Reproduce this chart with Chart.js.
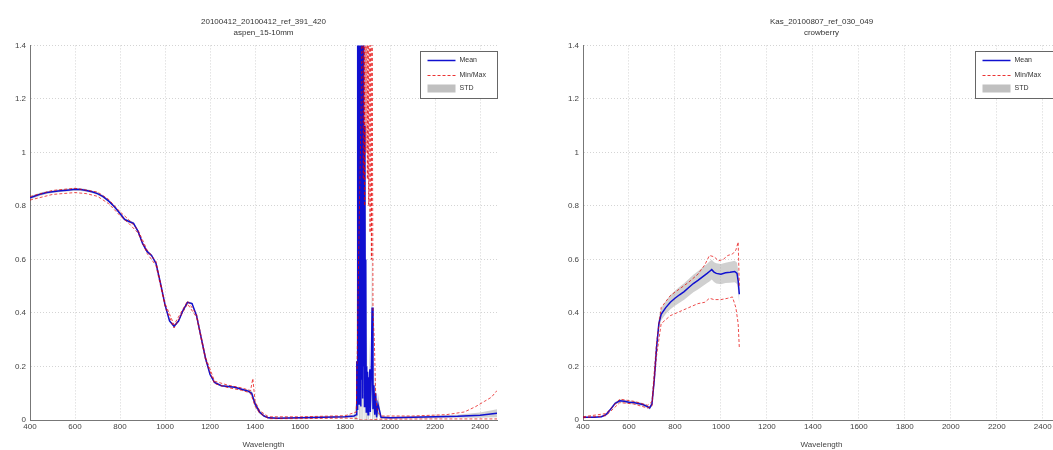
<!DOCTYPE html>
<html>
<head>
<meta charset="utf-8">
<script src="https://cdn.jsdelivr.net/npm/chart.js@4.4.0/dist/chart.umd.min.js"></script>
<style>
html, body { margin: 0; padding: 0; background: #fff; overflow: hidden; width: 1053px; height: 450px; }
#left { position: absolute; left: 0; top: 0; width: 527px; height: 450px; }
#right { position: absolute; left: 527px; top: 0; width: 540px; height: 450px; }
</style>
</head>
<body>
<div id="left"><canvas id="leftChart" width="527" height="450"></canvas></div>
<div id="right"><canvas id="rightChart" width="540" height="450"></canvas></div>
<script>
// tick labels and legend
var xTicks = [400, 600, 800, 1000, 1200, 1400, 1600, 1800, 2000, 2200, 2400];
var yTicks = [0, 0.2, 0.4, 0.6, 0.8, 1, 1.2, 1.4];
var legendLabels = ['Mean', 'Min/Max', 'STD'];

// left panel
var leftTitle = ['20100412_20100412_ref_391_420', 'aspen_15-10mm'];
var leftWl = [400,425,450,475,500,525,550,575,600,625,
    650,675,700,725,750,775,800,820,840,860,
    880,900,920,940,960,980,1000,1020,1040,1060,
    1080,1100,1120,1140,1160,1180,1200,1220,1250,1280,
    1310,1340,1370,1385,1400,1420,1440,1460,1500,1600,
    1700,1800,1840,
    1850,1852,1854,1856,1858,1860,1862,1864,1866,1868,1870,1872,1874,1876,1878,
    1880,1882,1884,1886,1888,1890,1892,1894,1896,1898,1900,1902,1904,1906,
    1910,1912,1916,1920,1924,1928,1932,1936,1940,1946,
    1960,2000,2100,2200,2300,2400,2475];
var leftMean = [0.830,0.838,0.845,0.850,0.853,0.856,0.858,0.860,0.862,0.861,
    0.858,0.853,0.846,0.835,0.818,0.797,0.772,0.750,0.742,0.735,
    0.705,0.660,0.630,0.615,0.585,0.510,0.430,0.370,0.350,0.370,
    0.410,0.440,0.435,0.390,0.310,0.230,0.170,0.140,0.128,0.125,
    0.122,0.115,0.108,0.100,0.060,0.030,0.015,0.008,0.007,0.008,
    0.010,0.012,0.015,
    0.02,0.22,0.04,1.7,0.12,2.2,0.06,1.9,0.18,2.0,0.05,1.6,0.15,1.2,0.08,
    1.5,0.2,0.9,0.05,1.1,0.12,0.6,0.03,0.2,0.06,0.18,0.02,0.16,0.05,
    0.19,0.03,0.15,0.42,0.04,0.13,0.02,0.10,0.01,0.06,
    0.01,0.008,0.01,0.012,0.014,0.018,0.025];
var leftStd = [0.006,0.006,0.006,0.005,0.005,0.005,0.005,0.005,0.005,0.005,
    0.005,0.005,0.005,0.005,0.005,0.005,0.005,0.005,0.005,0.005,
    0.004,0.004,0.004,0.004,0.004,0.004,0.004,0.004,0.004,0.004,
    0.004,0.004,0.004,0.004,0.004,0.004,0.004,0.004,0.004,0.004,
    0.004,0.004,0.005,0.010,0.012,0.008,0.004,0.003,0.003,0.003,
    0.003,0.004,0.006,
    0.05,0.3,0.1,0.9,0.3,1.2,0.4,1.1,0.4,1.2,0.3,1.0,0.4,0.8,0.3,
    1.0,0.4,0.7,0.3,0.8,0.3,0.5,0.1,0.2,0.1,0.15,0.05,0.12,0.05,
    0.12,0.04,0.1,0.3,0.05,0.1,0.03,0.08,0.02,0.04,
    0.006,0.004,0.004,0.005,0.006,0.01,0.015];
var leftMaxWl = [400,500,600,700,750,800,840,880,920,960,1000,1040,1080,1100,1140,1180,1220,1280,1340,1380,1390,1400,1420,1460,1600,1800,
    1850,1855,1860,1866,1872,1878,1881,1884,1887,1890,1893,1896,1899,1902,1905,1908,1911,1914,1917,1920,1924,1930,1936,1945,
    1960,2100,2250,2330,2380,2420,2450,2475];
var leftMax = [0.835,0.858,0.866,0.852,0.824,0.778,0.748,0.710,0.636,0.592,0.436,0.356,0.415,0.445,0.395,0.235,0.145,0.130,0.120,0.110,0.155,0.070,0.035,0.012,0.012,0.016,
    0.03,0.3,0.6,0.9,1.2,2.0,0.9,2.0,0.8,2.0,1.0,2.0,0.9,2.0,0.8,2.0,0.7,2.0,0.6,1.6,0.4,0.3,0.08,0.03,
    0.015,0.015,0.02,0.03,0.05,0.07,0.085,0.11];
var leftMinWl = [400,500,600,650,700,750,800,840,880,920,960,1000,1040,1080,1100,1140,1180,1220,1280,1340,1380,1400,1420,1460,1600,1800,1850,1870,1900,1950,2200,2475];
var leftMin = [0.822,0.843,0.850,0.846,0.836,0.808,0.764,0.734,0.699,0.623,0.577,0.424,0.344,0.404,0.434,0.384,0.224,0.136,0.121,0.111,0.101,0.052,0.026,0.005,0.005,0.007,0.006,0.0,0.0,0.003,0.004,0.004];

// right panel
var rightTitle = ['Kas_20100807_ref_030_049', 'crowberry'];
var rightWl = [400,450,480,500,520,540,560,580,600,620,
    640,660,680,690,700,710,720,730,740,760,
    780,800,820,840,860,880,900,920,940,950,
    960,970,980,1000,1020,1040,1060,1070,1075,1080];
var rightMean = [0.010,0.010,0.012,0.020,0.040,0.062,0.072,0.070,0.066,0.065,
    0.062,0.058,0.050,0.045,0.060,0.150,0.270,0.360,0.395,0.420,
    0.440,0.455,0.468,0.480,0.495,0.510,0.522,0.535,0.548,0.555,
    0.562,0.553,0.548,0.545,0.550,0.552,0.555,0.548,0.520,0.470];
var rightStd = [0.002,0.002,0.002,0.003,0.004,0.005,0.006,0.006,0.006,0.006,
    0.006,0.006,0.006,0.006,0.008,0.015,0.020,0.022,0.022,0.024,
    0.026,0.028,0.030,0.031,0.032,0.033,0.034,0.035,0.036,0.037,
    0.037,0.037,0.038,0.038,0.038,0.039,0.040,0.040,0.040,0.040];
var rightMaxWl = [400,500,560,620,680,700,720,740,780,820,860,900,930,950,970,990,1010,1030,1050,1065,1075,1080];
var rightMax = [0.012,0.024,0.078,0.070,0.055,0.068,0.29,0.42,0.465,0.49,0.515,0.545,0.58,0.615,0.61,0.595,0.60,0.615,0.62,0.635,0.665,0.50];
var rightMinWl = [400,500,560,620,680,700,720,740,780,820,860,900,930,950,970,1000,1030,1050,1065,1075,1080];
var rightMin = [0.008,0.016,0.065,0.060,0.045,0.052,0.24,0.36,0.39,0.405,0.42,0.435,0.44,0.455,0.45,0.45,0.455,0.46,0.42,0.36,0.27];

var fontFamily = '"Liberation Sans", Arial, sans-serif';

function pts(xs, ys) {
    return xs.map(function(x, i) { return {x: x, y: ys[i]}; });
}

// legend box drawn inside the plot, top right (matlab style)
var boxLegend = {
    id: 'boxLegend',
    afterDraw: function(chart, args, opts) {
        var ctx = chart.ctx, a = chart.chartArea;
        var x = Math.round(a.right - opts.width) + 0.5, y = Math.round(a.top + 6) + 0.5;
        ctx.save();
        ctx.fillStyle = '#fff';
        ctx.fillRect(x, y, opts.width, 47);
        ctx.strokeStyle = '#666';
        ctx.lineWidth = 1;
        ctx.strokeRect(x, y, opts.width, 47);
        ctx.font = '7px ' + fontFamily;
        ctx.fillStyle = '#333';
        ctx.textBaseline = 'middle';
        var rows = [9, 24, 37];
        // mean
        ctx.strokeStyle = '#1010d0';
        ctx.lineWidth = 1.5;
        ctx.beginPath(); ctx.moveTo(x + 7, y + rows[0]); ctx.lineTo(x + 35, y + rows[0]); ctx.stroke();
        // min/max
        ctx.strokeStyle = 'rgba(230,0,0,0.8)';
        ctx.lineWidth = 1;
        ctx.setLineDash([3, 2]);
        ctx.beginPath(); ctx.moveTo(x + 7, y + rows[1]); ctx.lineTo(x + 35, y + rows[1]); ctx.stroke();
        ctx.setLineDash([]);
        // std
        ctx.fillStyle = 'rgba(150,150,150,0.6)';
        ctx.fillRect(x + 7, y + rows[2] - 4, 28, 8);
        ctx.fillStyle = '#333';
        for (var i = 0; i < legendLabels.length; i++) {
            ctx.fillText(legendLabels[i], x + 39, y + rows[i]);
        }
        ctx.restore();
    }
};

function buildChart(id, title, wl, mean, std, maxWl, max, minWl, min, axisWidth, legendWidth) {
    var upper = mean.map(function(m, i) { return m + std[i]; });
    var lower = mean.map(function(m, i) { return m - std[i]; });
    var ctx = document.getElementById(id).getContext('2d');
    return new Chart(ctx, {
        type: 'line',
        data: {
            datasets: [
                {label: 'STD', data: pts(wl, upper), fill: 1, backgroundColor: 'rgba(150,150,150,0.45)',
                    borderColor: 'rgba(0,0,0,0)', borderWidth: 0, pointRadius: 0, order: 3},
                {label: 'STD low', data: pts(wl, lower), fill: false,
                    borderColor: 'rgba(0,0,0,0)', borderWidth: 0, pointRadius: 0, order: 3},
                {label: 'Mean', data: pts(wl, mean), borderColor: '#1010d0', borderWidth: 1.5,
                    pointRadius: 0, fill: false, order: 1},
                {label: 'Max', data: pts(maxWl, max), borderColor: 'rgba(230,0,0,0.7)', borderWidth: 1,
                    borderDash: [3, 2], pointRadius: 0, fill: false, order: 0},
                {label: 'Min', data: pts(minWl, min), borderColor: 'rgba(230,0,0,0.7)', borderWidth: 1,
                    borderDash: [3, 2], pointRadius: 0, fill: false, order: 0}
            ]
        },
        options: {
            responsive: false,
            animation: false,
            layout: {padding: {left: 0, right: id === 'leftChart' ? 30 : 7, top: 0, bottom: 0}},
            scales: {
                x: {
                    type: 'linear', min: 400, max: 2475,
                    afterBuildTicks: function(s) { s.ticks = xTicks.map(function(v) { return {value: v}; }); },
                    afterFit: function(s) { s.height = 30; },
                    ticks: {font: {size: 8, family: fontFamily}, color: '#444', padding: 2, maxRotation: 0,
                        callback: function(v) { return String(v); }},
                    grid: {color: '#d4d4d4', drawTicks: false},
                    border: {display: true, color: '#777', dash: [1, 2]},
                    title: {display: true, text: 'Wavelength', font: {size: 8, family: fontFamily}, color: '#444',
                        padding: {top: 5, bottom: 0}}
                },
                y: {
                    min: 0, max: 1.4,
                    afterBuildTicks: function(s) { s.ticks = yTicks.map(function(v) { return {value: v}; }); },
                    afterFit: function(s) { s.width = axisWidth; },
                    ticks: {font: {size: 8, family: fontFamily}, color: '#444', padding: 4,
                        callback: function(v) { return String(v); }},
                    grid: {color: '#d4d4d4', drawTicks: false},
                    border: {display: true, color: '#777', dash: [1, 2]}
                }
            },
            plugins: {
                legend: {display: false},
                tooltip: {enabled: false},
                title: {display: true, text: title, fullSize: false, color: '#333',
                    font: {size: 8, family: fontFamily, weight: 'normal', lineHeight: 1.4},
                    padding: {top: 16, bottom: 7}},
                boxLegend: {width: legendWidth}
            }
        },
        plugins: [boxLegend]
    });
}

document.addEventListener('DOMContentLoaded', function() {
    buildChart('leftChart', leftTitle, leftWl, leftMean, leftStd, leftMaxWl, leftMax, leftMinWl, leftMin, 30, 77);
    buildChart('rightChart', rightTitle, rightWl, rightMean, rightStd, rightMaxWl, rightMax, rightMinWl, rightMin, 56, 85);
});
</script>
</body>
</html>
